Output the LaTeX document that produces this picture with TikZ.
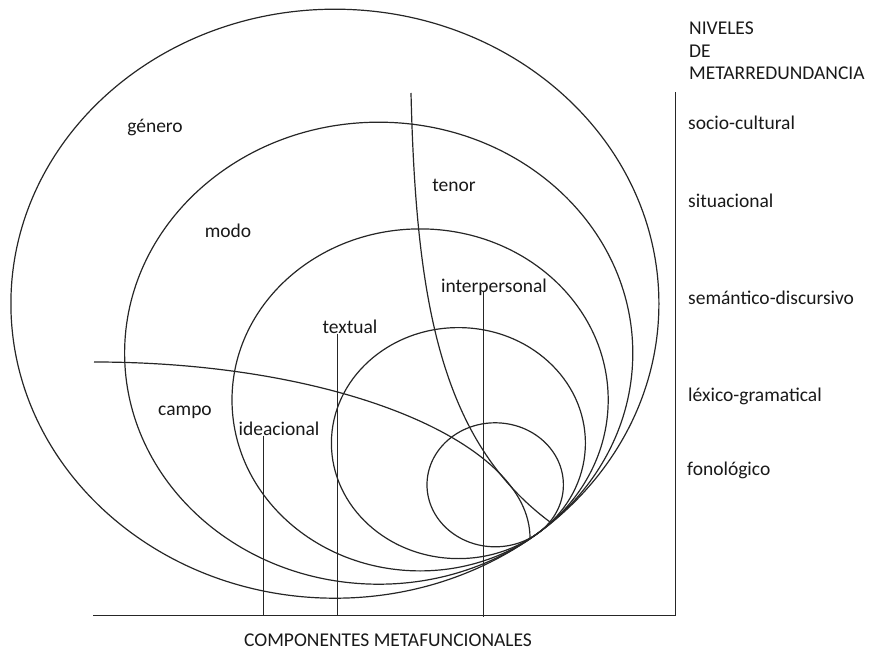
\documentclass[tikz,border=0pt]{standalone}
\usepackage{fontspec}
\setmainfont{Carlito}
\begin{document}
\begin{tikzpicture}[x=1pt,y=-1pt,
  lbl/.style={inner sep=0pt,text=black!90,font=\fontsize{19.5}{22.5}\selectfont},
  rim/.style={line width=1.2pt,draw=black!85},
  tick/.style={line width=1pt,draw=black!85}]
\useasboundingbox (0,0) rectangle (873,652);

% levels, all touching at the lower right
\draw[rim] (334.9,303.7) ellipse [x radius=324pt, y radius=294.5pt];
\draw[rim] (378.7,353.2) ellipse [x radius=254.1pt, y radius=231pt];
\draw[rim] (420.1,399.9) ellipse [x radius=188.1pt, y radius=171pt];
\draw[rim] (458.4,443.1) ellipse [x radius=127pt, y radius=115.5pt];
\draw[rim] (495.2,484.8) ellipse [x radius=68.2pt, y radius=62pt];

% campo and tenor
\draw[rim] (94,362) arc [start angle=90, end angle=0, x radius=436pt, y radius=176pt];
\draw[rim] (411,93) .. controls (416,300) and (440,440) .. (550,522);

\node[lbl] (genero) at (155,128) {género};
\node[lbl] (modo) at (228,231) {modo};
\node[lbl] (tenor) at (454,185) {tenor};
\node[lbl] (campo) at (185,412) {campo};
\node[lbl] (interp) at (494,287) {interpersonal};
\node[lbl] (textual) at (350,327) {textual};
\node[lbl] (ideac) at (279,429) {ideacional};

\node[lbl,anchor=west,align=left] (niveles) at (689,51) {NIVELES\\DE\\METARREDUNDANCIA};
\node[lbl,anchor=west] (socio) at (688,123) {socio-cultural};
\node[lbl,anchor=west] (situ) at (688,201) {situacional};
\node[lbl,anchor=west] (sem) at (688,298) {semántico-discursivo};
\node[lbl,anchor=west] (lex) at (688,396) {léxico-gramatical};
\node[lbl,anchor=west] (fono) at (687,470) {fonológico};

\node[lbl] (compo) at (388,640) {COMPONENTES METAFUNCIONALES};

% axes
\coordinate (origin) at (93,615);
\coordinate (corner) at (675,615);
\coordinate (top) at (675,92);
\draw[tick] (origin) -- (corner) -- (top);

% metafunction lines
\coordinate (ideacbot) at (263,615);
\coordinate (textbot) at (337,615);
\coordinate (interpbot) at (483,617);
\draw[tick] (ideac.base -| ideacbot) -- (ideacbot);
\draw[tick] (textual.base -| textbot) -- (textbot);
\draw[tick] (interp.base -| interpbot) -- (interpbot);
\end{tikzpicture}
\end{document}
